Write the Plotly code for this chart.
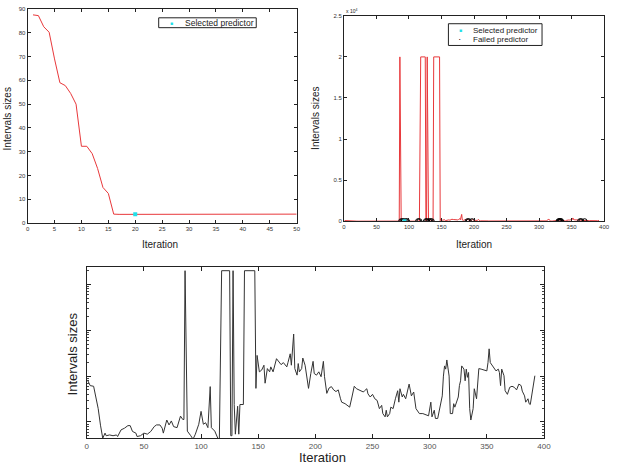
import plotly.graph_objects as go

# ---- Top-left data ----
tl_iter = list(range(1, 51))
tl_size = [87.5, 87.2, 82.5, 80.2, 69, 59, 57.8, 54.5, 50, 32.3,
           32.3, 29.2, 23, 15, 12.5, 3.8, 3.7, 3.7, 3.7, 3.7,
           3.7, 3.7, 3.7, 3.7, 3.7, 3.7, 3.7, 3.7, 3.7, 3.7,
           3.75, 3.75, 3.8, 3.8, 3.8, 3.85, 3.85, 3.9, 3.9, 3.9,
           3.9, 3.9, 3.85, 3.85, 3.8, 3.8, 3.8, 3.8, 3.8, 3.8]
tl_sel_iter = [20]
tl_sel_size = [3.7]

# ---- Full run data (top-right linear, bottom log) ----
run_iter = [1, 3, 6, 7, 10, 12, 14, 16, 17, 20, 23, 26, 27, 30, 33, 36, 38, 40, 43, 44,
            47, 50, 53, 56, 59, 61, 64, 66, 67, 70, 72, 74, 76, 79, 82, 84, 85, 86, 88, 91,
            93, 95, 98, 100, 102, 104, 106, 108, 109, 112, 115, 116, 118, 125, 126, 127, 128, 129, 130, 132,
            133, 134, 137, 138, 147, 148, 149, 151, 153, 155, 156, 158, 160, 161, 163, 166, 168, 170, 172, 175,
            176, 178, 179, 181, 182, 184, 185, 186, 188, 189, 191, 192, 194, 196, 198, 199, 201, 203, 205, 207,
            208, 210, 212, 214, 216, 218, 220, 222, 223, 226, 228, 230, 232, 234, 236, 239, 242, 243, 245, 246,
            248, 250, 252, 254, 256, 258, 259, 261, 262, 263, 265, 266, 268, 270, 272, 273, 274, 276, 277, 279,
            281, 282, 284, 286, 288, 291, 294, 297, 299, 301, 302, 304, 305, 307, 309, 310, 311, 312, 313, 314,
            315, 317, 318, 320, 321, 322, 324, 325, 326, 327, 328, 330, 331, 332, 333, 334, 335, 336, 338, 339,
            341, 342, 343, 345, 347, 350, 351, 352, 353, 355, 356, 358, 360, 361, 362, 363, 365, 366, 368, 370,
            372, 374, 376, 377, 378, 380, 381, 383, 384, 386, 387, 388, 390, 392]
run_size = [79, 62, 60, 45, 19.6, 8.5, 4.4, 5.7, 5.0, 5.2, 5.0, 5.2, 4.8, 6.7, 7.3, 8.3, 8.3, 6.2, 5.7, 4.8,
            5.0, 5.7, 5.4, 6.2, 7.9, 8.6, 8.6, 7.3, 5.7, 11, 8.6, 10.5, 7.9, 7.5, 13.4, 11.3, 11.3, 20000, 6.3, 5.0,
            4.2, 5.4, 8.9, 17, 8.9, 9.6, 7.5, 59, 7.5, 6.3, 4.2, 4.2, 20000, 20000, 5.0, 5.0, 20000, 24, 5.4, 22,
            5.4, 24, 24, 20000, 20000, 54, 283, 124, 135, 173, 70, 146, 124, 159, 124, 240, 204, 178, 197, 159,
            197, 307, 173, 828, 146, 105, 188, 124, 146, 248, 173, 124, 54, 114, 210, 114, 105, 124, 97, 210,
            97, 42, 55, 59, 50, 46, 50, 32, 27, 25, 23, 21, 35, 60, 53, 48, 45, 48, 53, 41,
            35, 40, 32, 29.5, 19.5, 23, 15.2, 12.9, 18, 12.9, 15.2, 21, 19.5, 32, 48, 27, 53, 35, 40, 32,
            55, 67, 37, 45, 19.5, 15.2, 15.2, 14, 13.6, 27, 12.9, 18, 11.9, 11.9, 23, 32, 37, 100, 167, 142,
            225, 100, 15.2, 15.2, 25, 21, 32, 35, 62, 79, 167, 142, 79, 142, 94, 120, 19.5, 11, 19.5, 53,
            32, 94, 146, 142, 139, 130, 197, 394, 197, 167, 160, 130, 142, 120, 62, 142, 102, 48, 40, 57,
            60, 57, 50, 62, 67, 62, 47, 37, 27, 32, 25, 24, 53, 102]
sel_iter = [93]
sel_size = [4.2]
failed_iter = [88, 90, 92, 95, 97, 114, 116, 126, 128, 131, 133, 135,
               190, 192, 197, 330, 331, 332, 333, 334, 363, 365, 370]
failed_size = [0] * len(failed_iter)
legend_labels = ["Selected predictor", "Failed predictor"]

W, H = 619, 474
def px_x(a, b):
    return [a / W, b / W]
def px_y(top, bottom):
    return [1 - bottom / H, 1 - top / H]

FONT = "Liberation Sans, Arial, sans-serif"
CYAN = "#22e0e8"
fig = go.Figure()

# top-left
fig.add_trace(go.Scatter(x=tl_iter, y=tl_size, mode="lines", line=dict(color="#e8383b", width=1),
                         showlegend=False, xaxis="x", yaxis="y"))
fig.add_trace(go.Scatter(x=tl_sel_iter, y=tl_sel_size, mode="markers", name=legend_labels[0],
                         marker=dict(color=CYAN, size=4, symbol="square"), showlegend=False,
                         xaxis="x", yaxis="y"))
# top-right
fig.add_trace(go.Scatter(x=run_iter, y=run_size, mode="lines", line=dict(color="#e8383b", width=1),
                         showlegend=False, xaxis="x2", yaxis="y2"))
fig.add_trace(go.Scatter(x=failed_iter, y=failed_size, mode="markers", name=legend_labels[1], showlegend=False,
                         marker=dict(color="black", size=5, symbol="circle-open", line=dict(width=1)),
                         xaxis="x2", yaxis="y2"))
fig.add_trace(go.Scatter(x=sel_iter, y=sel_size, mode="markers", name=legend_labels[0], showlegend=False,
                         marker=dict(color=CYAN, size=4, symbol="square"),
                         xaxis="x2", yaxis="y2"))
# bottom
fig.add_trace(go.Scatter(x=run_iter, y=run_size, mode="lines", line=dict(color="#333333", width=1),
                         showlegend=False, xaxis="x3", yaxis="y3"))
fig.add_trace(go.Scatter(x=sel_iter, y=sel_size, mode="markers", showlegend=False,
                         marker=dict(color="#1010ff", size=8, symbol="asterisk-open", line=dict(width=2, color="#1010ff")),
                         xaxis="x3", yaxis="y3", cliponaxis=False))

ax_common = dict(showline=True, linecolor="#222", linewidth=1, mirror="ticks", ticks="inside",
                 ticklen=3, tickcolor="#222", showgrid=False, zeroline=False,
                 tickfont=dict(size=6, color="#333", family=FONT))

minor_vals = [m * 10 ** e for e in range(0, 5) for m in range(2, 10)]

def ann(text, x, y, size, angle=0, color="#222", **kw):
    d = dict(text=text, x=x / W, y=1 - y / H, xref="paper", yref="paper", textangle=angle,
             showarrow=False, xanchor="center", yanchor="middle", font=dict(size=size, color=color))
    d.update(kw)
    return d

def box(x0, y0, x1, y1):
    return dict(type="rect", xref="paper", yref="paper", x0=x0 / W, x1=x1 / W, y0=1 - y1 / H, y1=1 - y0 / H,
                line=dict(color="#222", width=1), fillcolor="white", layer="above")

fig.update_layout(
    width=W, height=H, margin=dict(l=0, r=0, t=0, b=0),
    plot_bgcolor="white", paper_bgcolor="white",
    font=dict(family=FONT), showlegend=False,
    xaxis=dict(domain=px_x(26, 299), anchor="y", range=[0, 50], tickvals=list(range(0, 51, 5)), **ax_common),
    yaxis=dict(domain=px_y(6, 223), anchor="x", range=[0, 90], tickvals=list(range(0, 91, 10)), **ax_common),
    xaxis2=dict(domain=px_x(347, 611), anchor="y2", range=[0, 400], tickvals=list(range(0, 401, 50)), **ax_common),
    yaxis2=dict(domain=px_y(13, 221), anchor="x2", range=[0, 25000],
                tickvals=[0, 5000, 10000, 15000, 20000, 25000],
                ticktext=["0", "0.5", "1", "1.5", "2", "2.5"], **ax_common),
    xaxis3=dict(domain=px_x(86, 550), anchor="y3", range=[0, 400], tickvals=list(range(0, 401, 50)),
                **{**ax_common, "tickfont": dict(size=8, color="#555", family=FONT), "ticklen": 4}),
    yaxis3=dict(domain=px_y(267, 441), anchor="x3", type="log", range=[0.64, 4.39],
                tickvals=[10, 100, 1000, 10000], showticklabels=False,
                minor=dict(tickvals=minor_vals, ticks="inside", ticklen=2, tickcolor="#444"),
                **{**ax_common, "ticklen": 4}),
    shapes=[box(159, 15, 258, 25), box(453, 21, 548, 43)],
    annotations=[
        ann("Intervals sizes", 6, 117, 10, -90),
        ann("Iteration", 160, 245, 10),
        ann("Intervals sizes", 318, 117, 10, -90),
        ann("Iteration", 479, 245, 10),
        ann("x 10<sup>4</sup>", 347, 8, 5, xanchor="left"),
        ann("Intervals sizes", 72, 355, 13, -90),
        ann("Iteration", 325, 460, 13),
        # legend contents
        ann("■", 172, 20, 5, color=CYAN),
        ann(legend_labels[0], 184, 20, 8.5, xanchor="left"),
        ann("■", 465, 27.5, 5, color=CYAN),
        ann(legend_labels[0], 476, 27.5, 8, xanchor="left"),
        ann("•", 465, 37, 4, color="black"),
        ann(legend_labels[1], 476, 37, 8, xanchor="left"),
    ],
)

fig.write_html("out.html")
